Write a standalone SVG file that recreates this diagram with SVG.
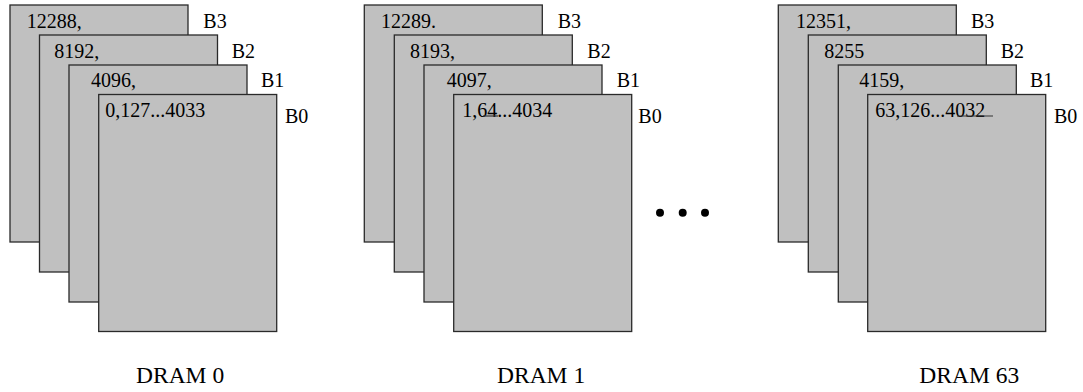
<svg xmlns="http://www.w3.org/2000/svg" width="1083" height="392" viewBox="0 0 1083 392">
<style>
.bank{fill:#c0c0c0;stroke:#2a2a2a;stroke-width:1.3}
text{font-family:'Liberation Serif','Times New Roman',Times,serif;fill:#000}
.t{font-size:20px}
.cap{font-size:23.5px}
.ul{stroke:#333;stroke-width:1.2}
</style>
<rect width="1083" height="392" fill="#fff"/>
<g id="dram0" font-family="Liberation Serif, serif">
<rect class="bank" x="10" y="5" width="178" height="237"/>
<text class="t" x="26.7" y="28">12288,</text>
<text class="t" x="203.3" y="28">B3</text>
<rect class="bank" x="39.5" y="35" width="178" height="237"/>
<text class="t" x="54.3" y="57.5">8192,</text>
<text class="t" x="231.7" y="57.5">B2</text>
<rect class="bank" x="69" y="65" width="178" height="237"/>
<text class="t" x="91" y="87">4096,</text>
<text class="t" x="261" y="87">B1</text>
<rect class="bank" x="98.7" y="94.5" width="178" height="237"/>
<text class="t" x="105.3" y="116.7">0,127...4033</text>
<text class="t" x="285" y="123">B0</text>
<text class="cap" x="136" y="382.7">DRAM 0</text>
</g>
<g id="dram1" font-family="Liberation Serif, serif">
<rect class="bank" x="364.3" y="5" width="178" height="237"/>
<text class="t" x="381" y="28">12289.</text>
<text class="t" x="557.7" y="28">B3</text>
<rect class="bank" x="394.3" y="35" width="178" height="237"/>
<text class="t" x="410" y="57.5">8193,</text>
<text class="t" x="587.3" y="57.5">B2</text>
<rect class="bank" x="424" y="65" width="178" height="237"/>
<text class="t" x="446.7" y="87">4097,</text>
<text class="t" x="616.7" y="87">B1</text>
<rect class="bank" x="453.7" y="94.5" width="178" height="237"/>
<text class="t" x="462.3" y="116.7">1,64...4034</text>
<line class="ul" x1="483" y1="116" x2="498" y2="116"/>
<text class="t" x="638.3" y="123">B0</text>
<text class="cap" x="497" y="382.7">DRAM 1</text>
</g>
<g id="ellipsis">
<circle cx="660" cy="212.7" r="4" fill="#000"/>
<circle cx="682.7" cy="212.7" r="4" fill="#000"/>
<circle cx="705" cy="212.7" r="4" fill="#000"/>
</g>
<g id="dram63" font-family="Liberation Serif, serif">
<rect class="bank" x="778.3" y="5" width="178" height="237"/>
<text class="t" x="796" y="28">12351,</text>
<text class="t" x="971" y="28">B3</text>
<rect class="bank" x="808.3" y="35" width="178" height="237"/>
<text class="t" x="824.3" y="57.5">8255</text>
<text class="t" x="1000.7" y="57.5">B2</text>
<rect class="bank" x="838.3" y="65" width="178" height="237"/>
<text class="t" x="859.3" y="87">4159,</text>
<text class="t" x="1030" y="87">B1</text>
<rect class="bank" x="867.7" y="94.5" width="178" height="237"/>
<text class="t" x="875.3" y="116.7">63,126...4032</text>
<line class="ul" x1="957" y1="116" x2="993" y2="116"/>
<text class="t" x="1054" y="123">B0</text>
<text class="cap" x="919.3" y="382.7">DRAM 63</text>
</g>
<g id="connectors"/>
</svg>
